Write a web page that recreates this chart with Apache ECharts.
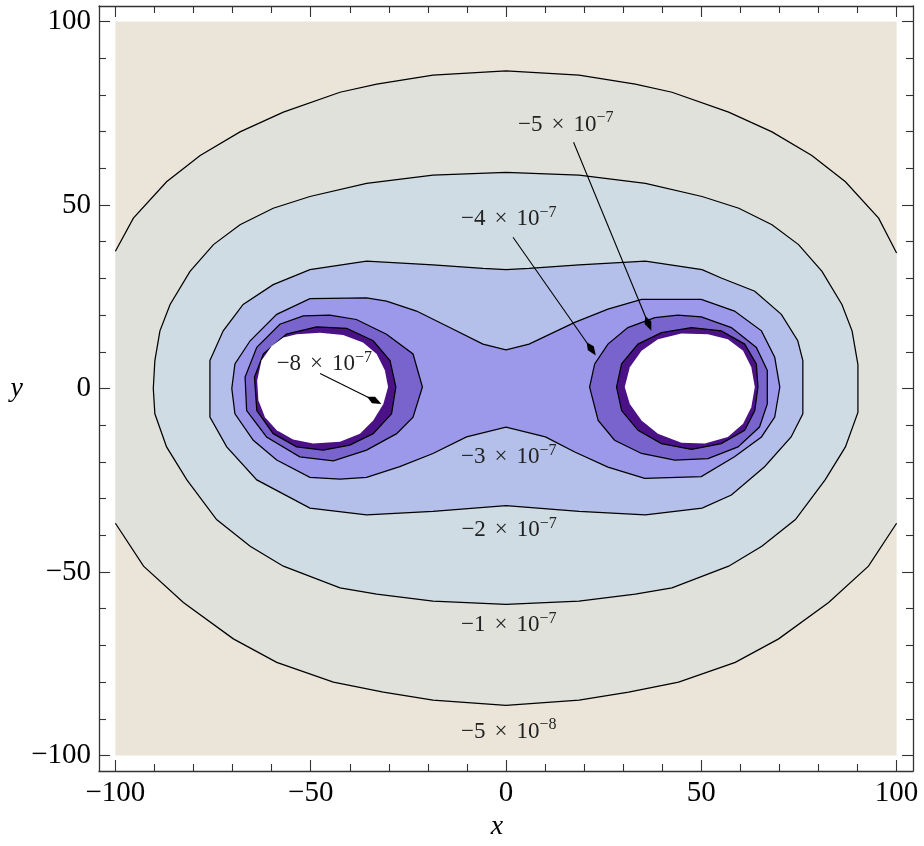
<!DOCTYPE html>
<html>
<head>
<meta charset="utf-8">
<script src="https://cdn.jsdelivr.net/npm/echarts@6.0.0/dist/echarts.min.js"></script>
<style>
html, body { margin: 0; padding: 0; background: #fff; }
#main { width: 924px; height: 846px; }
</style>
</head>
<body>
<div id="main"></div>
<script>
var MINUS = '\u2212';
var SERIF = "'Liberation Serif', 'DejaVu Serif', serif";
var LINE_W = 1.25;

// axis ticks
var majorTicks = [-100, -50, 0, 50, 100];
var minorTicks = [-90, -80, -70, -60, -40, -30, -20, -10, 10, 20, 30, 40, 60, 70, 80, 90];

// plotted region
var plotRange = [[-100, -100], [100, -100], [100, 100], [-100, 100]];

// contour -5e-8, cut by the plot range at x = -100 and x = 100
var c5e8Top = [[-100, 37.4], [-95.4, 46.4], [-86.9, 56.3], [-78.3, 63.5], [-68.1, 69.9], [-57.0, 75.3],
    [-42.5, 80.7], [-33.1, 82.9], [-18.7, 85.4], [0, 86.5], [18.7, 85.4], [33.1, 82.9], [42.5, 80.7],
    [57.0, 75.3], [68.1, 69.9], [78.3, 63.5], [86.9, 56.3], [95.4, 46.4], [100, 36.9]];
var c5e8Bottom = [[100, -36.7], [92.8, -48.4], [82.6, -58.3], [69.8, -68.2], [58.7, -74.6], [44.2, -80.0],
    [31.4, -82.7], [18.7, -84.9], [0, -86.3], [-18.7, -84.9], [-31.4, -82.7], [-44.2, -80.0], [-58.7, -74.6],
    [-69.8, -68.2], [-82.6, -58.3], [-92.8, -48.4], [-100, -36.7]];

// contour -1e-7
var c1e7 = [[-90.3, 0], [-89.9, 7.6], [-88.6, 15.7], [-86.0, 22.9], [-80.9, 31.9], [-74.9, 39.2], [-68.1, 44.6],
    [-59.6, 49.1], [-50.2, 52.3], [-35.7, 55.9], [-18.7, 58.1], [0, 58.9], [18.7, 58.1], [35.7, 55.9],
    [50.2, 52.3], [59.6, 49.1], [68.1, 44.6], [74.9, 39.2], [80.9, 31.9], [86.0, 22.9], [88.6, 15.7],
    [90.1, 6.5], [90.1, -6.5], [86.9, -15.9], [81.7, -24.9], [74.1, -35.7], [65.5, -43.0],
    [57.0, -48.4], [42.5, -54.3], [33.1, -56.0], [18.7, -57.9], [0, -58.8], [-18.7, -57.9], [-33.1, -56.0],
    [-42.5, -54.3], [-57.0, -48.4], [-65.5, -43.0], [-74.1, -35.7], [-81.7, -24.9], [-86.9, -15.9], [-89.9, -6.9]];

// contour -2e-7
var c2e7 = [[-75.8, 7.6], [-72.4, 15.7], [-67.3, 22.9], [-59.6, 28.3], [-50.2, 32.4], [-35.7, 34.7],
    [-18.7, 33.7], [-5.9, 32.7], [0, 32.4], [5.9, 32.7], [18.7, 33.7], [35.7, 34.7], [50.2, 32.4],
    [55.1, 30.1], [63.7, 26.5], [70.5, 20.2], [74.7, 13.0], [76.0, 7.6], [76.0, -6.9], [73.0, -13.2],
    [66.2, -21.3], [57.7, -29.0], [50.2, -32.6], [35.7, -34.4], [18.7, -33.5], [0, -31.9], [-18.7, -33.5],
    [-35.7, -34.4], [-50.2, -32.6], [-63.8, -24.9], [-71.5, -15.9], [-75.8, -7.8]];

// contour -3e-7
var c3e7 = [[-70.2, 0], [-69.4, 6.7], [-65.5, 13.0], [-58.7, 20.2], [-50.2, 24.5], [-35.7, 24.7], [-30.6, 23.8],
    [-22.9, 21.1], [-14.4, 16.6], [-5.9, 12.1], [0, 10.5], [5.9, 12.1], [17.6, 18.0], [26.1, 21.6],
    [34.7, 24.3], [50.0, 24.3], [58.5, 21.1], [65.4, 15.7], [68.8, 8.5], [70.1, 0.4], [68.8, -7.8],
    [65.4, -13.2], [58.5, -18.6], [50.0, -24.0], [35.5, -24.5], [26.1, -21.4], [17.6, -17.3], [10.1, -13.2],
    [0, -10.5], [-10.1, -13.2], [-18.7, -17.7], [-27.2, -21.3], [-35.7, -24.2], [-42.5, -24.7], [-50.2, -24.2],
    [-58.7, -19.5], [-64.7, -14.1], [-69.4, -6.9]];

// contour -4e-7, one ring around each mass
var c4e7Left = [[-45.1, 20.0], [-38.3, 18.8], [-30.6, 14.8], [-23.8, 9.4], [-21.4, 0.4], [-23.8, -7.8],
    [-28.0, -12.3], [-35.7, -16.8], [-44.2, -19.7], [-52.8, -18.6], [-61.3, -13.2], [-66.4, -6.0],
    [-66.8, 3.1], [-63.8, 11.2], [-57.9, 17.5], [-51.9, 19.8]];
var c4e7Right = [[21.4, 0.4], [22.7, 6.7], [26.1, 12.1], [31.2, 16.6], [38.1, 19.3], [44.0, 20.0], [50.0, 19.5],
    [57.7, 16.6], [64.1, 11.2], [66.9, 4.9], [66.9, -4.2], [64.9, -10.5], [59.4, -15.9], [51.7, -19.1],
    [43.2, -19.5], [34.7, -17.7], [27.8, -14.1], [23.6, -8.7]];

// contour -5e-7
var c5e7Left = [[-48.5, 16.8], [-40.8, 16.4], [-34.0, 13.0], [-29.7, 7.6], [-28.2, 0.4], [-29.3, -6.9],
    [-34.0, -12.3], [-40.0, -15.4], [-46.8, -16.8], [-53.6, -15.9], [-59.6, -12.3], [-63.8, -6.0],
    [-64.4, 3.1], [-62.1, 9.4], [-56.2, 14.8]];
var c5e7Right = [[28.3, 0.4], [29.6, 6.7], [33.8, 12.1], [39.8, 15.2], [47.5, 16.6], [55.1, 15.7], [61.1, 12.1],
    [64.1, 6.7], [64.5, 0.4], [63.7, -6.0], [61.1, -11.4], [55.1, -15.0], [47.5, -16.6], [39.8, -15.0],
    [33.8, -11.4], [29.6, -6.0]];

// values below the plot range (left blank)
var holeLeft = [[-53.6, 14.8], [-47.6, 15.2], [-41.7, 14.6], [-36.6, 12.5], [-33.1, 9.4], [-31.0, 4.9],
    [-30.2, 0.4], [-31.4, -4.2], [-34.0, -8.7], [-37.4, -12.3], [-42.5, -14.5], [-49.4, -15.0], [-54.5, -13.9],
    [-58.7, -11.4], [-61.7, -7.8], [-63.4, -3.2], [-63.7, 2.2], [-62.6, 7.6], [-60.0, 11.6], [-57.0, 13.9]];
var holeRight = [[30.4, 0.4], [31.7, 5.8], [34.7, 10.3], [38.9, 13.4], [44.9, 15.0], [51.7, 14.8], [56.8, 13.4],
    [60.7, 10.3], [62.8, 5.8], [63.7, 0.4], [62.8, -5.1], [60.7, -9.6], [56.8, -13.2], [50.9, -15.0],
    [44.9, -14.8], [38.9, -12.3], [34.7, -8.7], [31.7, -4.2]];

// band colours, from above -5e-8 down to below -5e-7
var bandColors = ['#ebe5d9', '#e1e1dc', '#d0dce3', '#b4c0ea', '#9c98ea', '#7864cc', '#4b1287'];

// contour labels: mantissa, exponent, anchor in data units
var labelMantissa = ['5', '4', '8', '3', '2', '1', '5'];
var labelExponent = ['7', '7', '7', '7', '7', '7', '8'];
var labelAt = [[15.3, 72.3], [0.7, 46.6], [-46.5, 7.1], [0.7, -18.3], [0.8, -38.1], [0.7, -64.1], [0.7, -93.1]];

// label arrows (for the first three labels)
var arrowFrom = [[17.3, 67.1], [1.8, 41.2], [-47.6, 4.1]];
var arrowTo = [[37.2, 15.7], [23.0, 9.0], [-31.9, -4.2]];

function fmtTick(v) {
    return v < 0 ? MINUS + (-v) : String(v);
}

function areaSeries(rings, fill, stroke) {
    return {
        type: 'custom',
        silent: true,
        clip: true,
        data: rings.map(function (r, i) { return [i, 0]; }),
        renderItem: function (params, api) {
            var ring = rings[params.dataIndex];
            return {
                type: 'polygon',
                shape: { points: ring.map(function (p) { return api.coord(p); }) },
                style: { fill: fill, stroke: stroke ? '#000' : null, lineWidth: LINE_W }
            };
        }
    };
}

function pathSeries(paths) {
    return {
        type: 'custom',
        silent: true,
        clip: true,
        data: paths.map(function (r, i) { return [i, 0]; }),
        renderItem: function (params, api) {
            var path = paths[params.dataIndex];
            return {
                type: 'polyline',
                shape: { points: path.map(function (p) { return api.coord(p); }) },
                style: { fill: null, stroke: '#000', lineWidth: LINE_W }
            };
        }
    };
}

function labelSeries() {
    var base = { fontFamily: SERIF, fontSize: 23, lineHeight: 26, verticalAlign: 'bottom', fill: '#222' };
    return {
        type: 'custom',
        silent: true,
        data: labelAt.map(function (p, i) { return [i, 0]; }),
        renderItem: function (params, api) {
            var i = params.dataIndex;
            var pt = api.coord(labelAt[i]);
            return {
                type: 'text',
                x: pt[0],
                y: pt[1],
                style: {
                    text: '{m|' + MINUS + labelMantissa[i] + '}{t|\u00d7}{m|10}{s|' + MINUS + labelExponent[i] + '}',
                    align: 'center',
                    verticalAlign: 'middle',
                    fill: '#222',
                    rich: {
                        m: base,
                        t: { fontFamily: SERIF, fontSize: 23, lineHeight: 26, verticalAlign: 'bottom', fill: '#222', padding: [0, 9, 0, 9] },
                        s: { fontFamily: SERIF, fontSize: 16, lineHeight: 10, verticalAlign: 'top', fill: '#222' }
                    }
                }
            };
        }
    };
}

function arrowSeries() {
    return {
        type: 'custom',
        silent: true,
        data: arrowFrom.map(function (p, i) { return [i, 0]; }),
        renderItem: function (params, api) {
            var i = params.dataIndex;
            var a = api.coord(arrowFrom[i]);
            var b = api.coord(arrowTo[i]);
            var dx = b[0] - a[0], dy = b[1] - a[1];
            var len = Math.sqrt(dx * dx + dy * dy);
            var ux = dx / len, uy = dy / len;
            var L = 16, W = 3.6;
            var head = [
                b,
                [b[0] - ux * L * 0.55 - uy * W, b[1] - uy * L * 0.55 + ux * W],
                [b[0] - ux * L, b[1] - uy * L],
                [b[0] - ux * L * 0.55 + uy * W, b[1] - uy * L * 0.55 - ux * W]
            ];
            return {
                type: 'group',
                children: [{
                    type: 'line',
                    shape: { x1: a[0], y1: a[1], x2: b[0] - ux * L * 0.8, y2: b[1] - uy * L * 0.8 },
                    style: { stroke: '#000', lineWidth: 1.1 }
                }, {
                    type: 'polygon',
                    shape: { points: head },
                    style: { fill: '#000' }
                }]
            };
        }
    };
}

function valueAxis(position, ticks, len, showLine, showLabel, extra) {
    var ax = {
        type: 'value',
        position: position,
        min: -104.2,
        max: 104.2,
        splitLine: { show: false },
        axisLine: { show: showLine, onZero: false, lineStyle: { color: '#333', width: 1.3 } },
        axisTick: { show: true, inside: true, length: len, customValues: ticks, lineStyle: { color: '#333', width: 1.1 } },
        axisLabel: showLabel ? {
            show: true,
            customValues: ticks,
            formatter: fmtTick,
            fontFamily: SERIF,
            fontSize: 29,
            color: '#000',
            margin: 8
        } : { show: false }
    };
    if (extra) {
        for (var k in extra) ax[k] = extra[k];
    }
    return ax;
}

var chart = echarts.init(document.getElementById('main'), null, { renderer: 'canvas' });

var series = [
    areaSeries([plotRange], bandColors[0], false),
    areaSeries([c5e8Top.concat(c5e8Bottom)], bandColors[1], false),
    pathSeries([c5e8Top, c5e8Bottom]),
    areaSeries([c1e7], bandColors[2], true),
    areaSeries([c2e7], bandColors[3], true),
    areaSeries([c3e7], bandColors[4], true),
    areaSeries([c4e7Left, c4e7Right], bandColors[5], true),
    areaSeries([c5e7Left, c5e7Right], bandColors[6], true),
    areaSeries([holeLeft, holeRight], '#ffffff', false),
    labelSeries(),
    arrowSeries()
];

var option = {
    animation: false,
    backgroundColor: '#ffffff',
    grid: { left: 99, top: 6, width: 814, height: 770, containLabel: false },
    xAxis: [
        valueAxis('bottom', majorTicks, 11, true, true, {
            name: 'x',
            nameLocation: 'middle',
            nameGap: 42,
            nameTextStyle: { fontFamily: SERIF, fontStyle: 'italic', fontSize: 28, color: '#000', padding: [0, 18, 0, 0] }
        }),
        valueAxis('bottom', minorTicks, 7, false, false),
        valueAxis('top', majorTicks, 11, true, false),
        valueAxis('top', minorTicks, 7, false, false)
    ],
    yAxis: [
        valueAxis('left', majorTicks, 11, true, true, {
            name: 'y',
            nameLocation: 'middle',
            nameRotate: 0,
            nameGap: 76,
            nameTextStyle: { fontFamily: SERIF, fontStyle: 'italic', fontSize: 28, color: '#000' }
        }),
        valueAxis('left', minorTicks, 7, false, false),
        valueAxis('right', majorTicks, 11, true, false),
        valueAxis('right', minorTicks, 7, false, false)
    ],
    series: series
};

chart.setOption(option);
</script>
</body>
</html>
